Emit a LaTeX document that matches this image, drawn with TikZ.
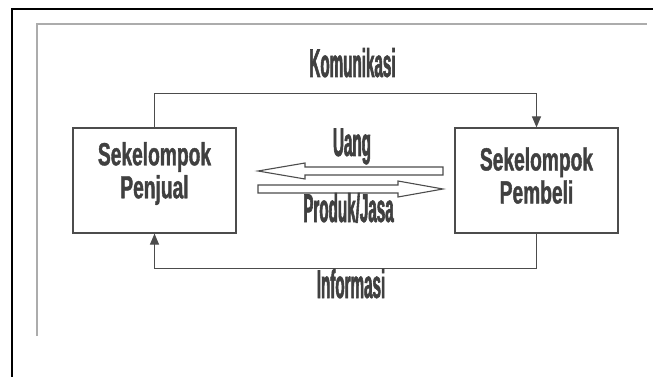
\documentclass[tikz,border=0pt]{standalone}
\usepackage{fontspec}
\usepackage{tikz}
\usetikzlibrary{arrows.meta}
\newfontfamily\grpfont[FakeStretch=0.6, FakeBold=1.2]{Liberation Sans Bold}
\newfontfamily\labfont[FakeStretch=0.38, FakeBold=1.4]{Liberation Sans Bold}

\tikzset{
  grp/.style={draw=black!70, line width=1.2pt, minimum width=163pt, minimum height=105pt},
  grptext/.style={align=center, text=black!75, font=\grpfont\fontsize{32}{33}\selectfont},
  lab/.style={anchor=base, text=black!75, inner sep=0pt, font=\labfont\fontsize{40}{44}\selectfont},
  link/.style={draw=black!70, line width=1.2pt, -{Triangle[length=11pt,width=9pt]}},
  hollow/.style={draw=black!70, line width=1.1pt, fill=white, line join=miter},
}

\begin{document}
\begin{tikzpicture}[x=1pt,y=1pt]
\useasboundingbox (0,0) rectangle (653,-377);
% frames of the scan
\draw[black, line width=1.6pt] (12,-377) -- (12,-9) -- (653,-9);
\draw[gray!65, line width=2pt] (37,-336) -- (37,-24) -- (647,-24);
% the two groups
\node[grp] (jual) at (154.5,-180.5) {};
\node[grptext] (jualtext) at ([yshift=7]jual.center) {Sekelompok\\Penjual};
\node[grp] (beli) at (536.5,-180.5) {};
\node[grptext] (belitext) at ([yshift=5]beli.center) {Sekelompok\\Pembeli};
% flows round the outside
\draw[link] (jual.north) -- ++(0,34) -| (beli.north);
\draw[link] (beli.south) -- ++(0,-35) -| (jual.south);
\node[lab] (komunikasi) at (352.5,-77) {Komunikasi};
\node[lab] (informasi) at (351,-298) {Informasi};
% money and goods
\draw[hollow] (443,-167) -- (305,-167) -- (305,-163) -- (258,-171) -- (305,-179) -- (305,-175) -- (443,-175) -- cycle;
\draw[hollow] (258,-185) -- (398,-185) -- (398,-181) -- (443,-189) -- (398,-197) -- (398,-193) -- (258,-193) -- cycle;
\node[lab] (uang) at (352,-156) {Uang};
\node[lab] (produk) at (348.5,-222) {Produk/Jasa};
\end{tikzpicture}
\end{document}
